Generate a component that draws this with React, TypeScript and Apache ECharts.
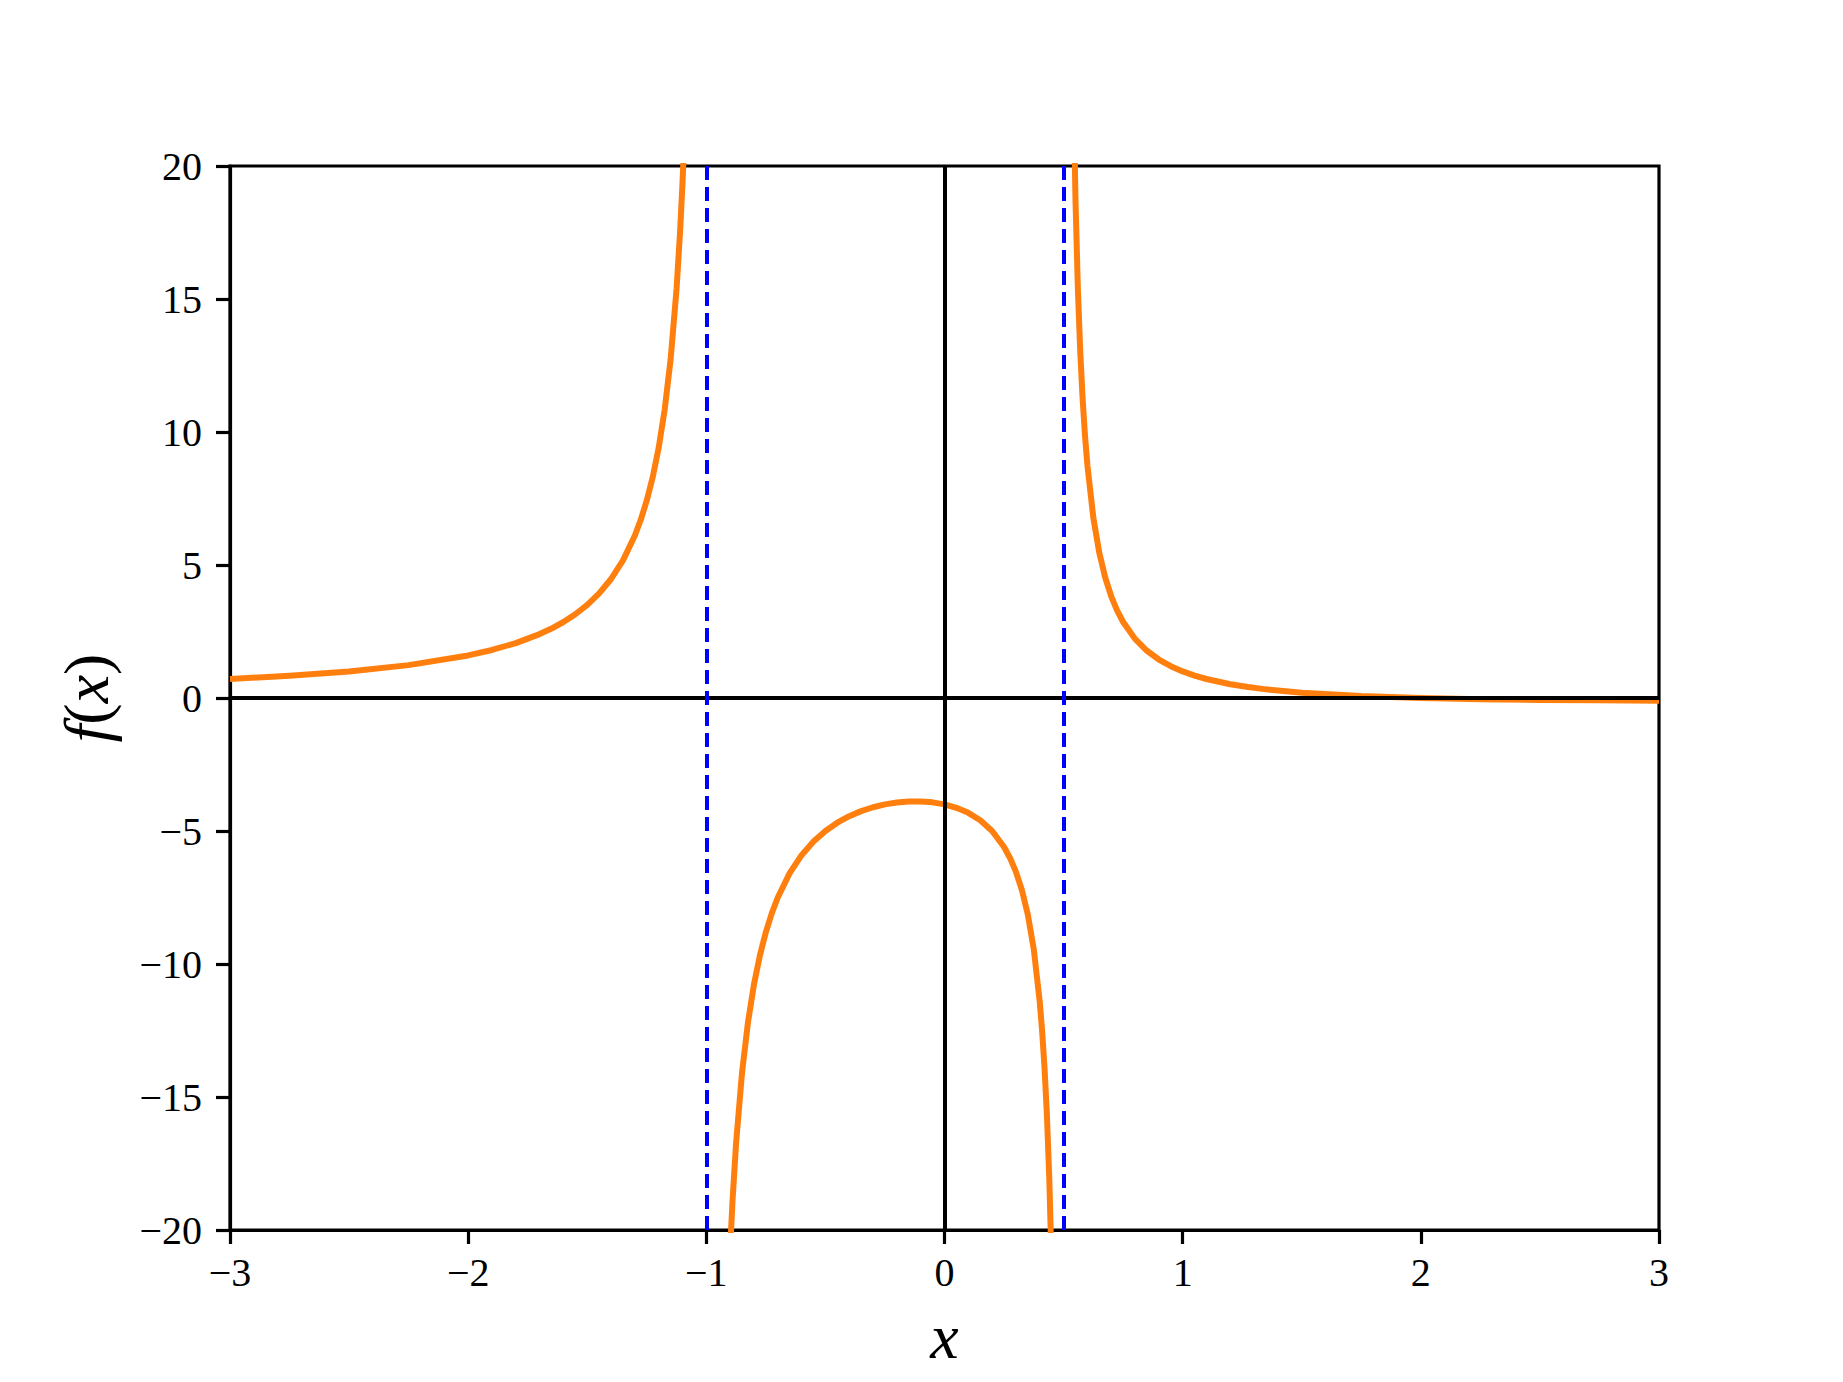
import React, { useEffect, useRef } from 'react';
import * as echarts from 'echarts';

// f(x), split at the two vertical asymptotes
const leftX = [-3, -2.75, -2.5, -2.25, -2, -1.9, -1.8, -1.7, -1.65, -1.6, -1.55, -1.5, -1.45, -1.4, -1.35, -1.3, -1.275, -1.25, -1.225, -1.2, -1.175, -1.15, -1.125, -1.11, -1.1, -1.09];
const leftY = [0.714, 0.835, 1.0, 1.236, 1.6, 1.806, 2.065, 2.403, 2.612, 2.857, 3.149, 3.5, 3.932, 4.474, 5.174, 6.111, 6.709, 7.429, 8.309, 9.412, 10.832, 12.727, 15.385, 17.56, 19.375, 21.59];

const midX = [-0.91, -0.9, -0.89, -0.875, -0.85, -0.825, -0.8, -0.775, -0.75, -0.725, -0.7, -0.65, -0.6, -0.55, -0.5, -0.45, -0.4, -0.35, -0.3, -0.25, -0.2, -0.15, -0.1, -0.05, 0, 0.05, 0.1, 0.15, 0.2, 0.25, 0.275, 0.3, 0.325, 0.35, 0.375, 0.4, 0.41, 0.42, 0.43, 0.44, 0.45];
const midY = [-22.93, -20.714, -18.9, -16.727, -14.074, -12.183, -10.769, -9.673, -8.8, -8.089, -7.5, -6.584, -5.909, -5.397, -5.0, -4.689, -4.444, -4.253, -4.107, -4.0, -3.929, -3.891, -3.889, -3.923, -4.0, -4.127, -4.318, -4.596, -5.0, -5.6, -6.013, -6.538, -7.224, -8.148, -9.455, -11.429, -12.53, -13.908, -15.684, -18.056, -21.379];

const rightX = [0.54, 0.55, 0.56, 0.57, 0.58, 0.59, 0.6, 0.625, 0.65, 0.675, 0.7, 0.725, 0.75, 0.8, 0.85, 0.9, 0.95, 1.0, 1.05, 1.1, 1.2, 1.275, 1.35, 1.5, 1.75, 2, 2.25, 2.5, 2.75, 3];
const rightY = [23.7, 18.71, 15.385, 13.01, 11.234, 9.853, 8.75, 6.769, 5.455, 4.52, 3.824, 3.285, 2.857, 2.222, 1.776, 1.447, 1.197, 1.0, 0.843, 0.714, 0.519, 0.411, 0.325, 0.2, 0.073, 0, -0.044, -0.071, -0.089, -0.1];

const asymptotes = [-1, 0.5];
const xTicks = { min: -3, max: 3, step: 1 };
const yTicks = { min: -20, max: 20, step: 5 };

const FONT = '"Liberation Serif", "DejaVu Serif", serif';
const minus = (v: number) => String(v).replace('-', '\u2212');

const curve = (xs: number[], ys: number[]) => ({
  type: 'line',
  data: xs.map((x, i) => [x, ys[i]]),
  showSymbol: false,
  symbol: 'none',
  smooth: false,
  clip: true,
  z: 2,
  lineStyle: { color: '#ff7f0e', width: 6, join: 'round' },
  silent: true,
});

const App: React.FC = () => {
  const chartRef = useRef<HTMLDivElement>(null);

  useEffect(() => {
    if (!chartRef.current) return;
    const chart = echarts.init(chartRef.current, null, { renderer: 'svg' });

    const axisCommon = {
      axisLine: { show: true, onZero: false, lineStyle: { color: '#000', width: 3.2 } },
      axisTick: { show: true, inside: false, length: 14, lineStyle: { color: '#000', width: 3.2 } },
      splitLine: { show: false },
    };

    chart.setOption({
      animation: false,
      backgroundColor: '#fff',
      grid: {
        left: 230,
        top: 166,
        width: 1429,
        height: 1064,
        show: true,
        borderColor: '#000',
        borderWidth: 3.2,
        backgroundColor: 'transparent',
      },
      xAxis: {
        type: 'value',
        min: xTicks.min,
        max: xTicks.max,
        interval: xTicks.step,
        ...axisCommon,
        axisLabel: {
          formatter: minus,
          fontFamily: FONT,
          fontSize: 40,
          color: '#000',
          margin: 22,
        },
        name: 'x',
        nameLocation: 'middle',
        nameGap: 74,
        nameTextStyle: { fontFamily: FONT, fontSize: 64, fontStyle: 'italic', color: '#000' },
      },
      yAxis: {
        type: 'value',
        min: yTicks.min,
        max: yTicks.max,
        interval: yTicks.step,
        ...axisCommon,
        axisLabel: {
          formatter: minus,
          fontFamily: FONT,
          fontSize: 40,
          color: '#000',
          margin: 28,
        },
        name: '{i|f}{r|(}{i|x}{r|)}',
        nameLocation: 'middle',
        nameGap: 112,
        nameTextStyle: {
          color: '#000',
          rich: {
            i: { fontFamily: FONT, fontSize: 64, fontStyle: 'italic', color: '#000' },
            r: { fontFamily: FONT, fontSize: 64, color: '#000' },
          },
        },
      },
      series: [
        curve(leftX, leftY),
        curve(midX, midY),
        curve(rightX, rightY),
        {
          type: 'line',
          data: [],
          z: 3,
          silent: true,
          markLine: {
            silent: true,
            symbol: 'none',
            animation: false,
            label: { show: false },
            emphasis: { disabled: true },
            lineStyle: { color: '#000', width: 4, type: 'solid' },
            data: [{ xAxis: 0 }, { yAxis: 0 }],
          },
        },
        {
          type: 'line',
          data: [],
          z: 4,
          silent: true,
          markLine: {
            silent: true,
            symbol: 'none',
            animation: false,
            label: { show: false },
            emphasis: { disabled: true },
            lineStyle: { color: '#0000ff', width: 4, type: [14, 7] },
            data: asymptotes.map((a) => ({ xAxis: a })),
          },
        },
      ],
    });

    return () => {
      chart.dispose();
    };
  }, []);

  return (
    <div
      ref={chartRef}
      style={{ position: 'absolute', left: 0, top: 0, width: '1843px', height: '1382px', background: '#fff' }}
    />
  );
};

export default App;
